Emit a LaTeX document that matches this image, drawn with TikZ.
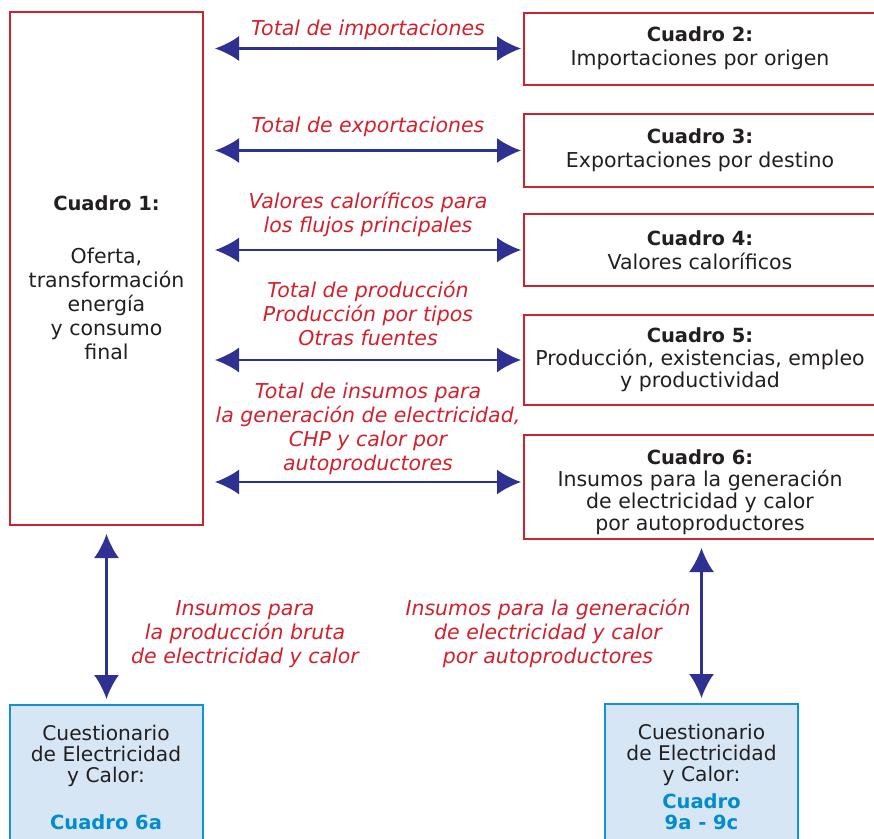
\documentclass[tikz,border=0pt]{standalone}
\usepackage{fontspec}
\setmainfont{DejaVu Sans}
\usetikzlibrary{arrows.meta,positioning,calc}
\definecolor{cuadrored}{RGB}{205,35,45}
\definecolor{flujored}{RGB}{210,32,44}
\definecolor{enlaceblue}{RGB}{46,49,146}
\definecolor{cuestfill}{RGB}{214,230,245}
\definecolor{cuestblue}{RGB}{20,145,210}
\definecolor{cuesttext}{RGB}{0,140,205}
\definecolor{textblack}{RGB}{35,31,32}
\newcommand{\titulo}[1]{{\fontsize{19.5}{22}\selectfont\bfseries #1}}

\begin{document}
\begin{tikzpicture}[x=1pt,y=-1pt,>={Latex[length=24pt,width=25pt]},
  cuadro/.style={draw=cuadrored,line width=2pt,align=center,inner sep=0pt,
    text=textblack,font=\fontsize{20.5}{22}\selectfont},
  cuest/.style={draw=cuestblue,fill=cuestfill,line width=2pt,align=center,inner sep=0pt,
    text=textblack,font=\fontsize{20.2}{21}\selectfont,minimum width=193pt,minimum height=145pt},
  flujo/.style={text=flujored,align=center,font=\fontsize{20.5}{24}\selectfont\itshape},
  enlace/.style={<->,draw=enlaceblue,line width=2.2pt}]
\useasboundingbox (0,0) rectangle (874,838);
\node[cuadro,minimum width=193pt,minimum height=513pt,font=\fontsize{20.5}{24}\selectfont] (c1) at (106.5,268.5)
  {\titulo{\rule{0pt}{34pt}Cuadro 1:}\\[29pt] Oferta,\\ transformación\\ energía\\ y consumo\\ final};
\node[cuadro,minimum width=352pt,minimum height=72pt] (c2) at (700,48.5)
  {\titulo{Cuadro 2:}\\[2pt] Importaciones por origen};
\node[cuadro,minimum width=352pt,minimum height=73pt] (c3) at (700,150.5)
  {\titulo{Cuadro 3:}\\[2pt] Exportaciones por destino};
\node[cuadro,minimum width=352pt,minimum height=72pt] (c4) at (700,250)
  {\titulo{Cuadro 4:}\\[2pt] Valores caloríficos};
\node[cuadro,minimum width=352pt,minimum height=90pt] (c5) at (700,360)
  {\titulo{Cuadro 5:}\\[1pt] Producción, existencias, empleo\\ y productividad};
\node[cuadro,minimum width=352pt,minimum height=104pt] (c6) at (700,487)
  {\titulo{\rule{0pt}{26pt}Cuadro 6:}\\ Insumos para la generación\\ de electricidad y calor\\ por autoproductores};
\node[cuest] (q6a) at (106,777.5)
  {Cuestionario\\ de Electricidad\\ y Calor:\\[26pt] \textcolor{cuesttext}{\titulo{Cuadro 6a}}};
\node[cuest] (q9) at (701.5,776.5)
  {Cuestionario\\ de Electricidad\\ y Calor:\\[6pt] \textcolor{cuesttext}{\titulo{Cuadro}}\\ \textcolor{cuesttext}{\titulo{9a - 9c}}};
\coordinate (a6) at ([yshift=5pt]c6.west);
\draw[enlace,shorten <=11pt,shorten >=2pt] (c1.east |- c2.west) -- (c2.west);
\draw[enlace,shorten <=11pt,shorten >=2pt] (c1.east |- c3.west) -- (c3.west);
\draw[enlace,shorten <=11pt,shorten >=2pt] (c1.east |- c4.west) -- (c4.west);
\draw[enlace,shorten <=11pt,shorten >=2pt] (c1.east |- c5.west) -- (c5.west);
\draw[enlace,shorten <=11pt,shorten >=2pt] (c1.east |- a6) -- (a6);
\draw[enlace,shorten <=8pt,shorten >=5pt] (c1.south) -- (c1.south |- q6a.north);
\draw[enlace,shorten <=8pt,shorten >=5pt] (q9.north |- c6.south) -- (q9.north);
\node[flujo] (f2) at (368,30) {Total de importaciones};
\node[flujo] (f3) at (368,127) {Total de exportaciones};
\node[flujo] (f4) at (368,214) {Valores caloríficos para\\ los flujos principales};
\node[flujo] (f5) at (368,313) {Total de producción\\ Producción por tipos\\ Otras fuentes};
\node[flujo] (f6) at (368,428.5) {Total de insumos para\\ la generación de electricidad,\\ CHP y calor por\\ autoproductores};
\node[flujo] (f6a) at (245,634) {Insumos para\\ la producción bruta\\ de electricidad y calor};
\node[flujo] (f9) at (548,633) {Insumos para la generación\\ de electricidad y calor\\ por autoproductores};
\end{tikzpicture}
\end{document}
